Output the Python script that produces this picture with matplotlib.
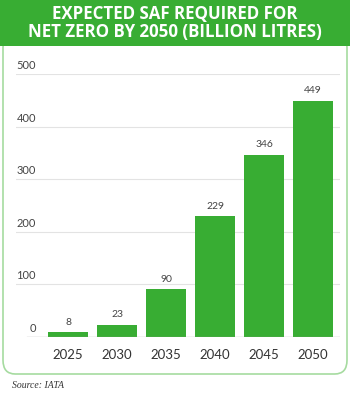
import matplotlib
matplotlib.use("Agg")
from matplotlib import pyplot as plt
from matplotlib.patches import FancyBboxPatch, Rectangle
import matplotlib.transforms as mtransforms

years = ["2025", "2030", "2035", "2040", "2045", "2050"]
saf = [8, 23, 90, 229, 346, 449]
yticks = [0, 100, 200, 300, 400, 500]

green = "#38ad33"
W, H = 350, 395

fig = plt.figure(figsize=(3.5, 3.95), dpi=100)
fig.patch.set_facecolor("white")

# rounded outline box + header band
box = FancyBboxPatch((3 / W, (H - 374) / H), 344 / W, 340 / H,
                     boxstyle="round,pad=0,rounding_size=0.035",
                     transform=fig.transFigure, facecolor="white",
                     edgecolor="#a6dba0", lw=1.2, zorder=-2)
fig.patches.append(box)
fig.patches.append(Rectangle((0, (H - 46) / H), 1, 46 / H, transform=fig.transFigure,
                             facecolor=green, edgecolor="none", zorder=-1))
fig.text(0.5, (H - 23) / H, "EXPECTED SAF REQUIRED FOR\nNET ZERO BY 2050 (BILLION LITRES)",
         ha="center", va="center", color="white", fontsize=12.2, fontweight="bold",
         family="Open Sans", linespacing=0.98)

ax = fig.add_axes([16 / W, (H - 336.7) / H, 324 / W, 262.7 / H])
ax.set_facecolor("none")
x = list(range(len(years)))
ax.bar(x, saf, width=0.82, color=green, zorder=3)
ax.set_xlim((16 - 68) / 49, (340 - 68) / 49)
ax.set_ylim(0, 500)
for s in ax.spines.values():
    s.set_visible(False)
ax.set_xticks([])
ax.set_yticks([])

for t in yticks[1:]:
    ax.axhline(t, color="#e3e3e3", lw=0.8, zorder=1)
ax.axhline(0, xmin=(27 - 16) / 324, color="#9a9a9a", lw=0.9, zorder=4)

trans = mtransforms.blended_transform_factory(fig.transFigure, ax.transData)
off = mtransforms.offset_copy(trans, fig=fig, y=2, units="points")
for t in yticks:
    ax.text(36 / W, t, str(t), transform=off, ha="right", va="bottom",
            fontsize=8, color="#444444", family="Lato")

for xi, v in zip(x, saf):
    ax.annotate(str(v), (xi, v), xytext=(0, 4), textcoords="offset points",
                ha="center", va="bottom", fontsize=7.5, color="#444444", family="Lato")
    ax.annotate(years[xi], (xi, 0), xytext=(0, -13.5), textcoords="offset points",
                ha="center", va="center", fontsize=9.5, color="#333333", family="Lato")

fig.text(12 / W, (H - 385) / H, "Source: IATA", ha="left", va="center",
         fontsize=7, style="italic", family="Liberation Serif", color="#333333")

fig.savefig("out.png", dpi=100)
